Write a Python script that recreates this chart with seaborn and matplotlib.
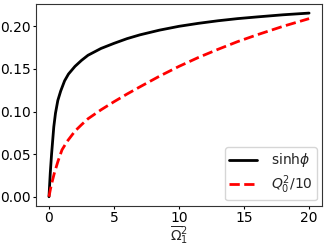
import matplotlib
matplotlib.use("Agg")
import matplotlib.pyplot as plt
import seaborn as sns
import pandas as pd

# values
x_sinh = [0, 0.1, 0.2, 0.37, 0.5, 0.68, 0.9, 1.2, 1.5, 2.0, 2.5, 3.0, 4.0, 5.0, 6.0, 7.0, 8.5, 10.0, 11.5, 13.0, 14.5, 16.0, 18.0, 20.0]
y_sinh = [0, 0.028, 0.050, 0.082, 0.098, 0.113, 0.124, 0.136, 0.144, 0.153, 0.160, 0.166, 0.174, 0.180, 0.1855, 0.190, 0.1955, 0.200, 0.2035, 0.2065, 0.209, 0.211, 0.2135, 0.2155]
x_q = [0, 0.1, 0.2, 0.4, 0.7, 1.0, 1.4, 2.0, 2.5, 3.0, 4.0, 5.0, 6.0, 7.0, 8.5, 10.0, 11.5, 13.0, 14.5, 16.0, 18.0, 20.0]
y_q = [0, 0.008, 0.015, 0.027, 0.042, 0.055, 0.065, 0.077, 0.0845, 0.0915, 0.1020, 0.1115, 0.1205, 0.129, 0.1415, 0.153, 0.1635, 0.173, 0.182, 0.190, 0.200, 0.209]
labels = [r"$\mathrm{sinh}\phi$", r"$Q_0^2/10$"]
xticks = [0, 5, 10, 15, 20]
yticks = [0.00, 0.05, 0.10, 0.15, 0.20]

sns.set_theme(style="white")
plt.rcParams["font.family"] = ["DejaVu Sans"]

fig = plt.figure(figsize=(3.27, 2.44), dpi=100)
ax = fig.add_axes([0.110, 0.156, 0.875, 0.828])

df1 = pd.DataFrame({"x": x_sinh, "y": y_sinh})
df2 = pd.DataFrame({"x": x_q, "y": y_q})
sns.lineplot(data=df1, x="x", y="y", ax=ax, color="black", lw=2, label=labels[0])
sns.lineplot(data=df2, x="x", y="y", ax=ax, color="red", lw=2, ls="--", label=labels[1])

ax.set_xticks(xticks)
ax.set_yticks(yticks)
ax.set_yticklabels([f"{v:.2f}" for v in yticks])
ax.tick_params(labelsize=10, length=2.5, width=0.8, pad=1.5, direction="out",
               left=True, bottom=True, colors="black")
ax.set_xlabel(r"$\overline{\Omega}_1^2$", fontsize=10, labelpad=-1)
ax.set_ylabel("")
for s in ax.spines.values():
    s.set_color("#333333")
    s.set_linewidth(0.8)
ax.legend(loc="lower right", fontsize=10, frameon=True, labelspacing=0.3,
          borderpad=0.3, handletextpad=1.0, borderaxespad=0.4)

fig.savefig("out.png", dpi=100)
